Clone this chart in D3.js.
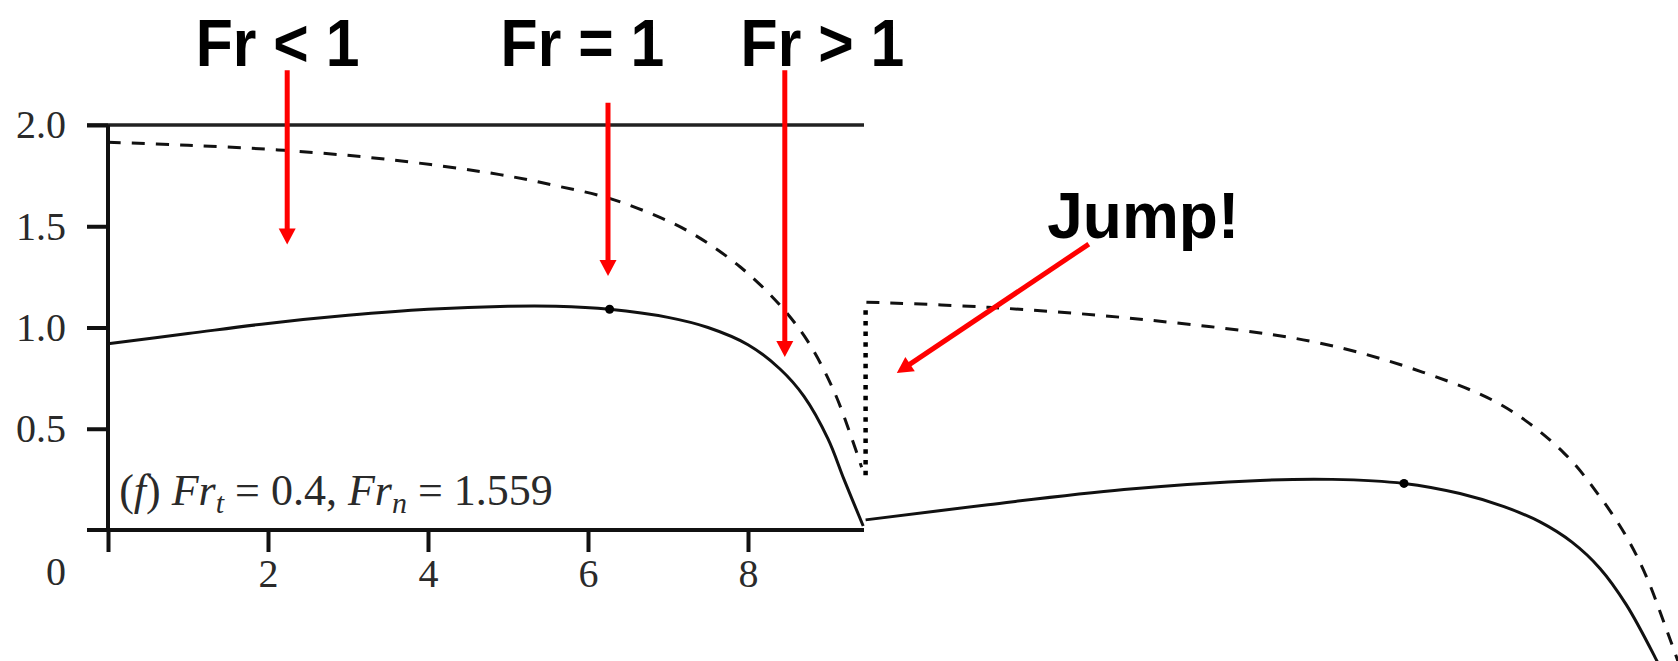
<!doctype html>
<html>
<head>
    <meta charset="UTF-8">
    <title>Hydraulic jump</title>
    <script src="https://d3js.org/d3.v7.min.js"></script>
    <style>
        body { margin: 0; background: #fff; }
        svg { display: block; }
    </style>
</head>
<body>
<script>
    var w = 1678;
    var h = 661;

    // axis ticks
    var xTicks = [0, 2, 4, 6, 8];
    var yTicks = [0.5, 1.0, 1.5, 2.0];
    var xEnd = 9.45;   // right end of the frame

    // solid line before the jump
    var solidAX = [0, 1, 2, 3, 4, 5, 5.6, 6.27, 7.0, 7.5, 8.0, 8.4, 8.7, 9.0, 9.2, 9.44];
    var solidAY = [0.92, 0.97, 1.02, 1.06, 1.09, 1.105, 1.105, 1.09, 1.05, 1.0, 0.915, 0.795, 0.66, 0.45, 0.25, 0.02];
    // dashed line before the jump
    var dashAX = [0, 1, 2.2, 3.5, 4.9, 5.6, 6.25, 6.8, 7.3, 7.9, 8.4, 8.75, 9.07, 9.3, 9.42];
    var dashAY = [1.915, 1.9, 1.875, 1.83, 1.755, 1.70, 1.64, 1.56, 1.465, 1.3, 1.11, 0.93, 0.69, 0.45, 0.31];
    // solid line after the jump
    var solidBX = [9.47, 11, 12.7, 14.4, 15.3, 16.2, 16.9, 17.45, 17.9, 18.3, 18.65, 18.98, 19.34, 19.5];
    var solidBY = [0.05, 0.125, 0.2, 0.245, 0.25, 0.23, 0.18, 0.115, 0.04, -0.06, -0.19, -0.37, -0.63, -0.76];
    // dashed line after the jump
    var dashBX = [9.48, 11, 13, 15.06, 16.43, 17.45, 18.2, 18.65, 18.98, 19.23, 19.48, 19.59, 19.7];
    var dashBY = [1.125, 1.10, 1.037, 0.93, 0.78, 0.61, 0.38, 0.164, -0.033, -0.23, -0.49, -0.61, -0.73];
    // critical points
    var markX = [6.27, 16.2];
    var markY = [1.09, 0.23];
    // the jump
    var jumpX = 9.47;
    var jumpY = [1.125, 0.24];

    // annotations (data coordinates)
    var frLabels = ["Fr < 1", "Fr = 1", "Fr > 1"];
    var frLabelX = [2.12, 5.93, 8.93];
    var frArrowX = [2.24, 6.25, 8.46];
    var frArrowTop = [2.27, 2.11, 2.27];
    var frArrowTip = [1.41, 1.254, 0.854];
    var jumpLabel = "Jump!";
    var jumpLabelPos = [12.94, 1.442];
    var jumpArrow = [12.26, 1.412, 9.86, 0.775];

    var x = d3.scaleLinear().domain([0, 10]).range([108, 908]);
    var y = d3.scaleLinear().domain([0, 2]).range([530, 125]);

    var svg = d3.select("body").append("svg")
        .attr("width", w)
        .attr("height", h)
        .style("background", "#fff");

    var ink = "#111";
    var serif = "'Liberation Serif', 'Times New Roman', serif";
    var sans = "'Liberation Sans', Arial, sans-serif";

    // frame: top line
    svg.append("line")
        .attr("x1", x(0) - 21).attr("x2", x(xEnd))
        .attr("y1", y(2)).attr("y2", y(2))
        .attr("stroke", "#222").attr("stroke-width", 3.5);

    // y axis
    var yAxis = d3.axisLeft(y).tickValues(yTicks).tickSize(21).tickSizeOuter(0).tickPadding(21)
        .tickFormat(d3.format(".1f"));
    var gy = svg.append("g").attr("transform", "translate(" + x(0) + ",0)").call(yAxis);
    gy.select(".domain").remove();
    gy.selectAll(".tick line").attr("stroke", ink).attr("stroke-width", 4);
    gy.selectAll(".tick text").attr("fill", "#2a2a2a").style("font", "40px " + serif);

    // x axis
    var xAxis = d3.axisBottom(x).tickValues(xTicks).tickSize(22).tickSizeOuter(0).tickPadding(7)
        .tickFormat(function(d) { return d === 0 ? "" : d; });
    var gx = svg.append("g").attr("transform", "translate(0," + y(0) + ")").call(xAxis);
    gx.select(".domain").remove();
    gx.selectAll(".tick line").attr("stroke", ink).attr("stroke-width", 4);
    gx.selectAll(".tick text").attr("fill", "#2a2a2a").style("font", "40px " + serif);

    svg.append("line")
        .attr("x1", x(0) - 21).attr("x2", x(xEnd))
        .attr("y1", y(0)).attr("y2", y(0))
        .attr("stroke", ink).attr("stroke-width", 4);
    svg.append("line")
        .attr("x1", x(0)).attr("x2", x(0))
        .attr("y1", y(2)).attr("y2", y(0))
        .attr("stroke", ink).attr("stroke-width", 4);

    // "0" sits in the row of the x labels
    svg.append("text")
        .attr("x", x(0) - 42).attr("y", y(0) + 55)
        .attr("text-anchor", "end")
        .attr("fill", "#2a2a2a")
        .style("font", "40px " + serif)
        .text("0");

    // curves
    var line = d3.line()
        .x(function(d) { return x(d[0]); })
        .y(function(d) { return y(d[1]); })
        .curve(d3.curveCatmullRom.alpha(0.5));

    function curve(xs, ys, dash) {
        svg.append("path")
            .datum(d3.zip(xs, ys))
            .attr("d", line)
            .attr("fill", "none")
            .attr("stroke", ink)
            .attr("stroke-width", 3)
            .attr("stroke-dasharray", dash ? "13,11" : null);
    }
    curve(solidAX, solidAY, false);
    curve(dashAX, dashAY, true);
    curve(solidBX, solidBY, false);
    curve(dashBX, dashBY, true);

    // dotted jump
    svg.append("line")
        .attr("x1", x(jumpX)).attr("x2", x(jumpX))
        .attr("y1", y(jumpY[0]) + 8).attr("y2", y(jumpY[1]))
        .attr("stroke", "#000").attr("stroke-width", 4.5)
        .attr("stroke-dasharray", "4.5,6.2");

    // critical point markers
    svg.selectAll("circle.mark")
        .data(d3.zip(markX, markY))
        .enter().append("circle")
        .attr("class", "mark")
        .attr("cx", function(d) { return x(d[0]); })
        .attr("cy", function(d) { return y(d[1]); })
        .attr("r", 4.5)
        .attr("fill", "#000");

    // annotation inside the plot
    var note = svg.append("text")
        .attr("x", x(0.14)).attr("y", y(0.123))
        .attr("fill", "#2a2a2a")
        .style("font", "44px " + serif);
    note.append("tspan").text("(");
    note.append("tspan").style("font-style", "italic").text("f");
    note.append("tspan").text(") ");
    note.append("tspan").style("font-style", "italic").text("Fr");
    note.append("tspan").style("font-style", "italic").style("font-size", "30px").attr("dy", 8).text("t");
    note.append("tspan").attr("dy", -8).text(" = 0.4, ");
    note.append("tspan").style("font-style", "italic").text("Fr");
    note.append("tspan").style("font-style", "italic").style("font-size", "30px").attr("dy", 8).text("n");
    note.append("tspan").attr("dy", -8).text(" = 1.559");

    // red arrows
    function arrow(x1, y1, x2, y2) {
        var dx = x2 - x1, dy = y2 - y1;
        var len = Math.sqrt(dx * dx + dy * dy);
        var ux = dx / len, uy = dy / len;
        var head = 16, half = 8.5;
        var bx = x2 - ux * head, by = y2 - uy * head;
        svg.append("line")
            .attr("x1", x1).attr("y1", y1)
            .attr("x2", bx + ux).attr("y2", by + uy)
            .attr("stroke", "#ff0000").attr("stroke-width", 5);
        svg.append("polygon")
            .attr("points", [
                [x2, y2],
                [bx - uy * half, by + ux * half],
                [bx + uy * half, by - ux * half]
            ].join(" "))
            .attr("fill", "#ff0000");
    }
    for (var i = 0; i < frLabels.length; i++) {
        arrow(x(frArrowX[i]), y(frArrowTop[i]), x(frArrowX[i]), y(frArrowTip[i]));
        // condensed bold label
        svg.append("text")
            .attr("transform", "translate(" + x(frLabelX[i]) + "," + y(2.29) + ") scale(0.92,1)")
            .attr("text-anchor", "middle")
            .attr("fill", "#000")
            .style("font", "bold 66px " + sans)
            .text(frLabels[i]);
    }
    arrow(x(jumpArrow[0]), y(jumpArrow[1]), x(jumpArrow[2]), y(jumpArrow[3]));
    svg.append("text")
        .attr("x", x(jumpLabelPos[0])).attr("y", y(jumpLabelPos[1]))
        .attr("text-anchor", "middle")
        .attr("fill", "#000")
        .style("font", "bold 64px " + sans)
        .text(jumpLabel);
</script>
</body>
</html>
